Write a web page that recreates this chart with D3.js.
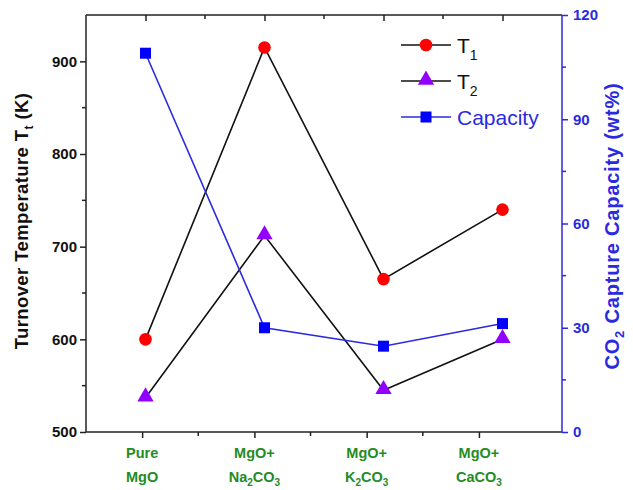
<!DOCTYPE html>
<html>
<head>
<meta charset="utf-8">
<script src="https://cdn.jsdelivr.net/npm/d3@7"></script>
<style>
  body { margin: 0; background: #fff; }
  svg text { font-family: "Liberation Sans", Arial, sans-serif; }
</style>
</head>
<body>
<div id="chart"></div>
<script>
// samples along the x axis
let samples = ["Pure MgO", "MgO+Na2CO3", "MgO+K2CO3", "MgO+CaCO3"]
let t1 = [600, 915, 665, 740]
let t2 = [537, 712, 545, 600]
let capacity = [109, 30, 24.7, 31.2]

let leftTicks = [500, 600, 700, 800, 900]
let rightTicks = [0, 30, 60, 90, 120]

let width = 633
let height = 490
let padL = 86, padR = 562, padT = 15, padB = 432

let svg = d3.select("#chart")
  .append("svg")
  .attr("width", width)
  .attr("height", height)

// points sit on the top axis positions, bottom labels are slightly shifted in the original
let xScale = d3.scaleLinear().domain([0.5, 4.5]).range([padL, padR])
let xLabelScale = d3.scaleLinear().domain([0.5, 4.74]).range([padL, padR])
let yLeft = d3.scaleLinear().domain([500, 950]).range([padB, padT])
let yRight = d3.scaleLinear().domain([0, 120]).range([padB, padT])

let green = "#248c24"
let blue = "#2a2ae0"

// frame
svg.append("line").attr("x1", padL).attr("x2", padR).attr("y1", padT).attr("y2", padT)
   .attr("stroke", "#222").attr("stroke-width", 1.5)

// bottom axis
let xAxis = d3.axisBottom(xLabelScale)
  .tickValues([1, 2, 3, 4]).tickSize(6).tickFormat("")
let gx = svg.append("g").attr("transform", `translate(0,${padB})`).call(xAxis)
gx.selectAll("line").attr("stroke", "#222").attr("stroke-width", 1.5)
gx.select(".domain").attr("stroke", "#222").attr("stroke-width", 1.5)
  .attr("d", `M${padL},0H${padR}`)
gx.selectAll(".minor").data([1.5, 2.5, 3.5]).enter().append("line")
  .attr("x1", d => xLabelScale(d)).attr("x2", d => xLabelScale(d))
  .attr("y1", 0).attr("y2", 4).attr("stroke", "#222").attr("stroke-width", 1.5)

let labelParts = [
  [["Pure"], ["MgO"]],
  [["MgO+"], ["Na", "2", "CO", "3"]],
  [["MgO+"], ["K", "2", "CO", "3"]],
  [["MgO+"], ["CaCO", "3"]]
]
labelParts.forEach((lines, i) => {
  lines.forEach((parts, j) => {
    let t = svg.append("text")
      .attr("x", xLabelScale(i + 1))
      .attr("y", padB + 26 + j * 24)
      .attr("text-anchor", "middle")
      .attr("fill", green)
      .attr("font-weight", "bold")
      .attr("font-size", 14.5)
    parts.forEach((p, k) => {
      let sub = k % 2 == 1
      t.append("tspan").text(p)
        .attr("font-size", sub ? 10 : 14.5)
        .attr("dy", sub ? 4 : (k > 0 ? -4 : 0))
    })
  })
})

// top axis, ticks pointing in
let xTop = d3.axisTop(xScale).tickValues([1, 2, 3, 4]).tickSize(-6).tickFormat("")
let gt = svg.append("g").attr("transform", `translate(0,${padT})`).call(xTop)
gt.select(".domain").remove()
gt.selectAll("line").attr("stroke", "#222").attr("stroke-width", 1.5)
gt.selectAll(".minor").data([1.5, 2.5, 3.5]).enter().append("line")
  .attr("x1", d => xScale(d)).attr("x2", d => xScale(d))
  .attr("y1", 0).attr("y2", 4).attr("stroke", "#222").attr("stroke-width", 1.5)

// left axis
let yAxisL = d3.axisLeft(yLeft).tickValues(leftTicks).tickSize(6).tickPadding(3)
let gl = svg.append("g").attr("transform", `translate(${padL},0)`).call(yAxisL)
gl.select(".domain").attr("stroke", "#222").attr("stroke-width", 1.5)
  .attr("d", `M0,${padB}V${padT}`)
gl.selectAll("line").attr("stroke", "#222").attr("stroke-width", 1.5)
gl.selectAll("text").attr("font-size", 15).attr("font-weight", "bold").attr("fill", "#111")
gl.selectAll(".minor").data([550, 650, 750, 850]).enter().append("line")
  .attr("x1", -4).attr("x2", 0)
  .attr("y1", d => yLeft(d)).attr("y2", d => yLeft(d))
  .attr("stroke", "#222").attr("stroke-width", 1.5)

// right axis
let yAxisR = d3.axisRight(yRight).tickValues(rightTicks).tickSize(6).tickPadding(5)
let gr = svg.append("g").attr("transform", `translate(${padR},0)`).call(yAxisR)
gr.select(".domain").attr("stroke", blue).attr("stroke-width", 1.5)
  .attr("d", `M0,${padB}V${padT}`)
gr.selectAll("line").attr("stroke", blue).attr("stroke-width", 1.5)
gr.selectAll("text").attr("font-size", 15).attr("font-weight", "bold").attr("fill", blue)
gr.selectAll(".minor").data([15, 45, 75, 105]).enter().append("line")
  .attr("x1", 0).attr("x2", 4)
  .attr("y1", d => yRight(d)).attr("y2", d => yRight(d))
  .attr("stroke", blue).attr("stroke-width", 1.5)

// axis titles
let lt = svg.append("text")
  .attr("transform", `translate(28,221) rotate(-90)`)
  .attr("text-anchor", "middle").attr("font-size", 18.5).attr("font-weight", "bold")
  .attr("letter-spacing", 0.4).attr("fill", "#111")
lt.append("tspan").text("Turnover Temperature T")
lt.append("tspan").text("t").attr("font-size", 12).attr("dy", 5)
lt.append("tspan").text(" (K)").attr("dy", -5)

let rt = svg.append("text")
  .attr("transform", `translate(619,226) rotate(-90)`)
  .attr("text-anchor", "middle").attr("font-size", 20).attr("font-weight", "bold")
  .attr("letter-spacing", 0.8).attr("fill", blue)
rt.append("tspan").text("CO")
rt.append("tspan").text("2").attr("font-size", 13).attr("dy", 5)
rt.append("tspan").text(" Capture Capacity (wt%)").attr("dy", -5)

// lines
let xs = samples.map((d, i) => xScale(i + 1))
let lineL = d3.line().x((d, i) => xs[i]).y(d => yLeft(d))
let lineR = d3.line().x((d, i) => xs[i]).y(d => yRight(d))

svg.append("path").datum(t1).attr("d", lineL).attr("fill", "none").attr("stroke", "#111").attr("stroke-width", 1.6)
svg.append("path").datum(t2).attr("d", lineL).attr("fill", "none").attr("stroke", "#111").attr("stroke-width", 1.6)
svg.append("path").datum(capacity).attr("d", lineR).attr("fill", "none").attr("stroke", blue).attr("stroke-width", 1.6)

let circle = d3.symbol().type(d3.symbolCircle).size(125)
let tri = d3.symbol().type(d3.symbolTriangle).size(115)
let sq = d3.symbol().type(d3.symbolSquare).size(121)

svg.selectAll(".t1").data(t1).enter().append("path")
  .attr("d", circle).attr("fill", "#ff0000")
  .attr("transform", (d, i) => `translate(${xs[i]},${yLeft(d)})`)
svg.selectAll(".t2").data(t2).enter().append("path")
  .attr("d", tri).attr("fill", "#9100ff")
  .attr("transform", (d, i) => `translate(${xs[i]},${yLeft(d) - 1})`)
svg.selectAll(".cap").data(capacity).enter().append("path")
  .attr("d", sq).attr("fill", "#0000ff")
  .attr("transform", (d, i) => `translate(${xs[i]},${yRight(d)})`)

// legend
let legend = [
  { name: "T", sub: "1", sym: circle, fill: "#ff0000", line: "#111", text: "#111" },
  { name: "T", sub: "2", sym: tri, fill: "#9100ff", line: "#111", text: "#111" },
  { name: "Capacity", sub: "", sym: sq, fill: "#0000ff", line: blue, text: blue }
]
let lg = svg.append("g")
legend.forEach((d, i) => {
  let y = 45 + i * 36
  lg.append("line").attr("x1", 401).attr("x2", 451).attr("y1", y).attr("y2", y)
    .attr("stroke", d.line).attr("stroke-width", 1.6)
  lg.append("path").attr("d", d.sym).attr("fill", d.fill)
    .attr("transform", `translate(426,${y - (i == 1 ? 1 : 0)})`)
  let t = lg.append("text").attr("x", 457).attr("y", y + 8)
    .attr("font-size", 21).attr("fill", d.text)
  t.append("tspan").text(d.name)
  if (d.sub) t.append("tspan").text(d.sub).attr("font-size", 14).attr("dy", 7)
})
</script>
</body>
</html>
